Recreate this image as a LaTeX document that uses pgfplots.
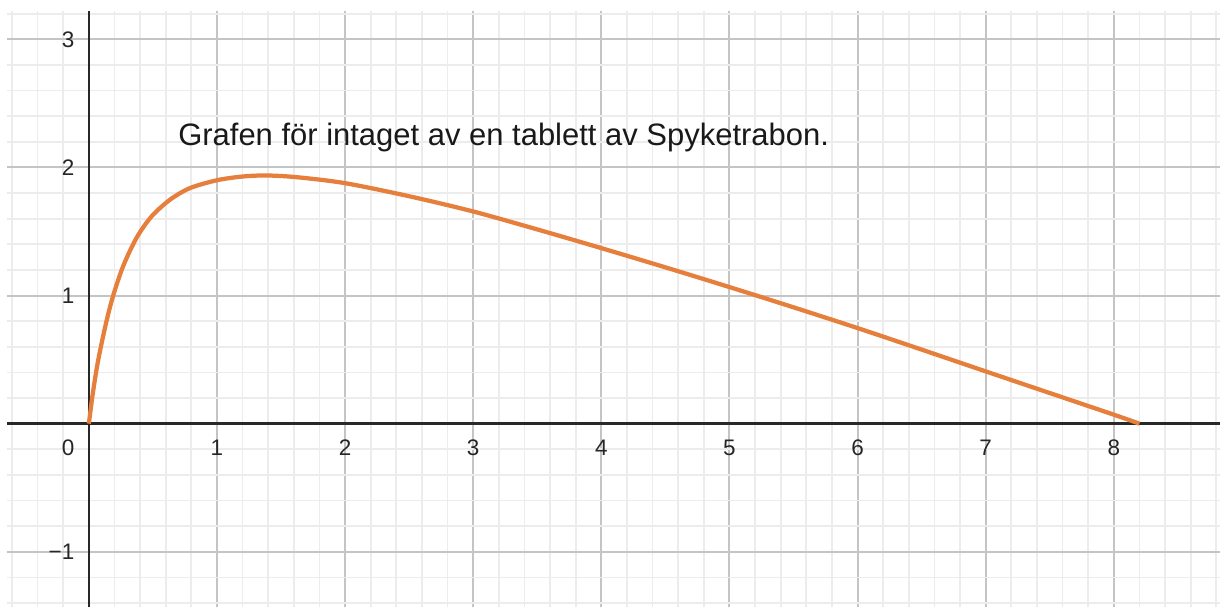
\documentclass[border=0pt]{standalone}
\usepackage{pgfplots}
\pgfplotsset{compat=1.18}
\usepackage{fontspec}
\setmainfont{Liberation Sans}
\definecolor{curve}{RGB}{230,126,60}
\definecolor{majgrid}{RGB}{196,196,196}
\definecolor{mingrid}{RGB}{236,236,236}
\definecolor{axcol}{RGB}{40,40,40}
\begin{document}
\begin{tikzpicture}
\begin{axis}[
  scale only axis, width=485.6pt, height=238.8pt,
  xmin=-0.639, xmax=8.827, ymin=-1.434, ymax=3.221,
  axis lines=middle,
  axis line style={-, draw=axcol, line width=1pt},
  xtick={0,...,8}, xticklabels={,1,2,3,4,5,6,7,8},
  ytick={-1,0,1,2,3}, yticklabels={−1,,1,2,3},
  minor xtick={-0.6,-0.4,...,8.8},
  minor ytick={-1.4,-1.2,...,3.2},
  grid=both,
  major grid style={draw=majgrid, line width=0.8pt},
  minor grid style={draw=mingrid, line width=0.7pt},
  major tick length=0pt, minor tick length=0pt,
  tick label style={font=\fontsize{9}{10}\selectfont, text=black!85, inner sep=0pt},
  xticklabel style={anchor=north, yshift=-6.4pt},
  yticklabel style={anchor=east, xshift=-5.6pt},
]
\addplot[curve, line width=1.7pt, smooth] coordinates {
(0,0) (0.025,0.194) (0.047,0.343) (0.07,0.48) (0.099,0.625) (0.14,0.81)
(0.19,1.00) (0.268,1.23) (0.372,1.45) (0.489,1.617) (0.632,1.747)
(0.788,1.838) (1.0,1.90) (1.2,1.929) (1.385,1.937) (1.619,1.924)
(2.0,1.877) (2.5,1.775) (3.0,1.656) (3.5,1.516)
(4.0,1.370) (4.5,1.220) (5.0,1.066) (5.5,0.908) (6.0,0.746)
(6.5,0.578) (7.0,0.408) (7.5,0.239) (8.0,0.070) (8.2,0.0)
};
\node[anchor=base west, inner sep=0pt, font=\fontsize{12.4}{14}\selectfont, text=black!90]
  at (axis cs:0.694,2.168) {Grafen för intaget av en tablett av Spyketrabon.};
\node[anchor=north east, inner sep=0pt, font=\fontsize{9}{10}\selectfont, text=black!85,
  xshift=-5.6pt, yshift=-6.4pt] at (axis cs:0,0) {0};
\end{axis}
\path ([xshift=-2.8pt]current axis.south west) ([yshift=4.4pt]current axis.north east);
\end{tikzpicture}
\end{document}
